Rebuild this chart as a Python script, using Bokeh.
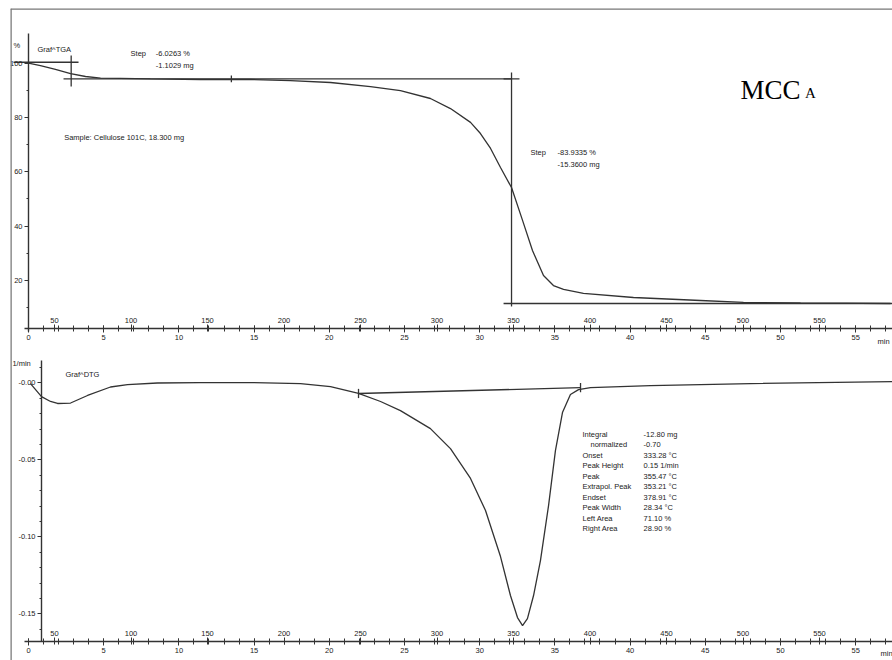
from bokeh.plotting import figure
from bokeh.models import (Range1d, LinearAxis, FixedTicker, SingleIntervalTicker,
                          PrintfTickFormatter, Span)
from bokeh.core.properties import value
from bokeh.embed import file_html
from bokeh.resources import INLINE

# ---------------- data ----------------
# TGA curve: temperature (°C) vs mass (%)
tga_temp = [33.0, 40.8, 50.6, 60.5, 70.3, 80.1, 93.1, 112.7, 145.4, 178.1, 204.2, 230.4,
            256.5, 276.1, 295.7, 308.8, 321.9, 328.4, 335.0, 341.5, 348.7, 355.9, 362.4,
            369.6, 376.1, 382.7, 395.7, 428.4, 472.2, 500.3, 537.6, 596.4]
tga_mass = [100.0, 99.1, 97.7, 96.2, 95.1, 94.5, 94.4, 94.2, 94.0, 94.0, 93.6, 92.9,
            91.4, 89.9, 87.0, 83.3, 78.2, 74.1, 68.6, 61.6, 54.2, 42.1, 31.0,
            21.8, 18.1, 16.7, 15.2, 13.7, 12.6, 11.9, 11.7, 11.5]

# DTG curve: temperature (°C) vs rate (1/min)
dtg_temp = [34.3, 41.5, 47.4, 52.0, 60.5, 71.6, 86.6, 97.7, 117.3, 145.4, 178.1, 210.8,
            230.4, 248.7, 263.1, 276.1, 295.7, 308.8, 321.9, 331.7, 341.5, 348.0, 352.6,
            355.9, 359.1, 363.1, 367.6, 372.9, 377.4, 382.0, 387.2, 392.5, 400.3, 439.5,
            504.9, 597.7]
dtg_rate = [-0.0005, -0.0089, -0.0121, -0.0134, -0.0131, -0.0082, -0.0027, -0.0011, -0.0001,
            0.0002, 0.0002, -0.0005, -0.0024, -0.0069, -0.0121, -0.0180, -0.0297, -0.0427,
            -0.0621, -0.0829, -0.1128, -0.1381, -0.1524, -0.1576, -0.1531, -0.1381, -0.1154,
            -0.0797, -0.0440, -0.0193, -0.0076, -0.0044, -0.0031, -0.0018, -0.0005, 0.0008]

# step evaluation (TGA)
step1_T = [60.9, 348.7]          # step limits, °C
step1_levels = [100.35, 94.25]   # %
step2_levels = [94.25, 11.5]     # %
step1_text = ["Step", "-6.0263 %", "-1.1029 mg"]
step2_text = ["Step", "-83.9335 %", "-15.3600 mg"]
sample_text = "Sample: Cellulose 101C, 18.300 mg"

# DTG peak evaluation
dtg_base_T = [248.7, 393.8]
dtg_base_rate = [-0.0069, -0.0031]
result_labels = ["Integral", "normalized", "Onset", "Peak Height", "Peak", "Extrapol. Peak",
                 "Endset", "Peak Width", "Left Area", "Right Area"]
result_values = ["-12.80 mg", "-0.70", "333.28 °C", "0.15 1/min", "355.47 °C", "353.21 °C",
                 "378.91 °C", "28.34 °C", "71.10 %", "28.90 %"]

tga_ticks = [20, 40, 60, 80, 100]
tga_minor = [10, 30, 50, 70, 90]
dtg_ticks = [-0.15, -0.10, -0.05, 0.0]
dtg_minor = [-0.16, -0.14, -0.13, -0.12, -0.11, -0.09, -0.08, -0.07, -0.06,
             -0.04, -0.03, -0.02, -0.01, 0.01]

# ---------------- figure ----------------
FONT = "Liberation Sans"
FS = "7.5px"
INK = "#333333"

p = figure(width=892, height=660, output_backend="svg", toolbar_location=None,
           x_axis_type=None, y_axis_type=None,
           x_range=Range1d(21.24, 597.7), y_range=Range1d(-120.0, 120.15),
           min_border_left=10, min_border_top=8, min_border_right=0, min_border_bottom=0)
p.extra_y_ranges = {"dtg": Range1d(-0.1803, 0.2431)}
p.extra_x_ranges = {"time": Range1d(-1.197, 57.45)}
p.outline_line_color = None
p.background_fill_color = "white"
p.border_fill_color = "white"

# page frame (left and top edges)
p.add_layout(Span(location=p.x_range.start, dimension="height", line_color="#777777", line_width=2.5))
p.add_layout(Span(location=p.y_range.end, dimension="width", line_color="#777777", line_width=2.5))


def style(ax, tin=0, tout=4, mtin=0, mtout=2):
    ax.axis_line_color = INK
    ax.axis_line_width = 1.4
    ax.major_tick_line_color = INK
    ax.minor_tick_line_color = INK
    ax.major_tick_in = tin
    ax.major_tick_out = tout
    ax.minor_tick_in = mtin
    ax.minor_tick_out = mtout
    ax.major_label_text_font = FONT
    ax.major_label_text_font_size = FS
    ax.major_label_text_color = "#222222"
    ax.major_label_standoff = 2
    return ax


TGA_AXIS_Y = 2.2
DTG_AXIS_Y = -0.168

# TGA y axis
ax = style(LinearAxis(fixed_location=33.0, bounds=(1.0, 110.9),
                      ticker=FixedTicker(ticks=tga_ticks, minor_ticks=tga_minor)))
p.add_layout(ax, "left")
# DTG y axis
ax = style(LinearAxis(y_range_name="dtg", fixed_location=41.5, bounds=(-0.168, 0.0145),
                      ticker=FixedTicker(ticks=dtg_ticks, minor_ticks=dtg_minor),
                      formatter=PrintfTickFormatter(format="%.2f")))
ax.major_label_overrides = {0: "-0.00"}
p.add_layout(ax, "left")

for yname, yloc in (("default", TGA_AXIS_Y), ("dtg", DTG_AXIS_Y)):
    # time axis (min), labels below
    ax = style(LinearAxis(x_range_name="time", y_range_name=yname, fixed_location=yloc,
                          bounds=(-0.25, 60),
                          ticker=SingleIntervalTicker(interval=5, num_minor_ticks=5)),
               tin=3, tout=4, mtin=3, mtout=3)
    p.add_layout(ax, "below")
    # temperature axis (°C), labels above
    ax = style(LinearAxis(y_range_name=yname, fixed_location=yloc,
                          ticker=SingleIntervalTicker(interval=50, num_minor_ticks=5)),
               tin=3, tout=4, mtin=0, mtout=0)
    ax.axis_line_color = None
    p.add_layout(ax, "above")

# curves
p.line(tga_temp, tga_mass, line_color=INK, line_width=1.3)
p.line(dtg_temp, dtg_rate, y_range_name="dtg", line_color=INK, line_width=1.3)

# TGA step evaluation lines
seg = dict(line_color=INK, line_width=1.3)
p.segment(x0=[23.2, step1_T[0], 55.9, 165.6, step1_T[1], 343.5, 343.5],
          y0=[step1_levels[0], 102.8, step1_levels[1], 95.5, 96.6, step2_levels[0], step2_levels[1]],
          x1=[65.7, step1_T[0], step1_T[1], 165.6, step1_T[1], 353.9, 600.0],
          y1=[step1_levels[0], 91.4, step1_levels[1], 93.0, 10.4, step2_levels[0], step2_levels[1]],
          **seg)
# DTG baseline
p.line(dtg_base_T, dtg_base_rate, y_range_name="dtg", **seg)
p.segment(x0=dtg_base_T, x1=dtg_base_T,
          y0=[r + 0.003 for r in dtg_base_rate], y1=[r - 0.003 for r in dtg_base_rate],
          y_range_name="dtg", **seg)

txt = dict(text_font=value(FONT), text_font_size=FS, text_baseline="middle", text_color="#222222")
# TGA texts
p.text(x=[23.2, 38.9, 99.7, 116.2, 116.2, 56.3, 361.1, 378.8, 378.8, 587.9],
       y=[106.5, 105.0, 103.6, 103.6, 99.2, 72.6, 67.1, 67.1, 62.7, -2.5],
       text=["%", "Graf^TGA", step1_text[0], step1_text[1], step1_text[2], sample_text,
             step2_text[0], step2_text[1], step2_text[2], "min"], **txt)
# DTG texts
p.text(x=[22.5, 57.2, 589.9], y=[0.0125, 0.0054, -0.1758], text=["1/min", "Graf^DTG", "min"],
       y_range_name="dtg", **txt)
row_y = [(382.3 - (434 + 10.45 * i)) / 1540 for i in range(len(result_labels))]
lab_x = [395.1 if i != 1 else 400.3 for i in range(len(result_labels))]
p.text(x=lab_x, y=row_y, text=result_labels, y_range_name="dtg", **txt)
p.text(x=[435.0] * len(result_values), y=row_y, text=result_values, y_range_name="dtg", **txt)

# sample label
p.text(x=[498.4], y=[90.3], text=["MCC"], text_font=value("Liberation Serif"),
       text_font_size="27px", text_baseline="alphabetic", text_color="#000000")
p.text(x=[540.5], y=[88.9], text=["A"], text_font=value("Liberation Serif"),
       text_font_size="15px", text_baseline="alphabetic", text_color="#000000")

open("out.html", "w").write(file_html(p, INLINE))
